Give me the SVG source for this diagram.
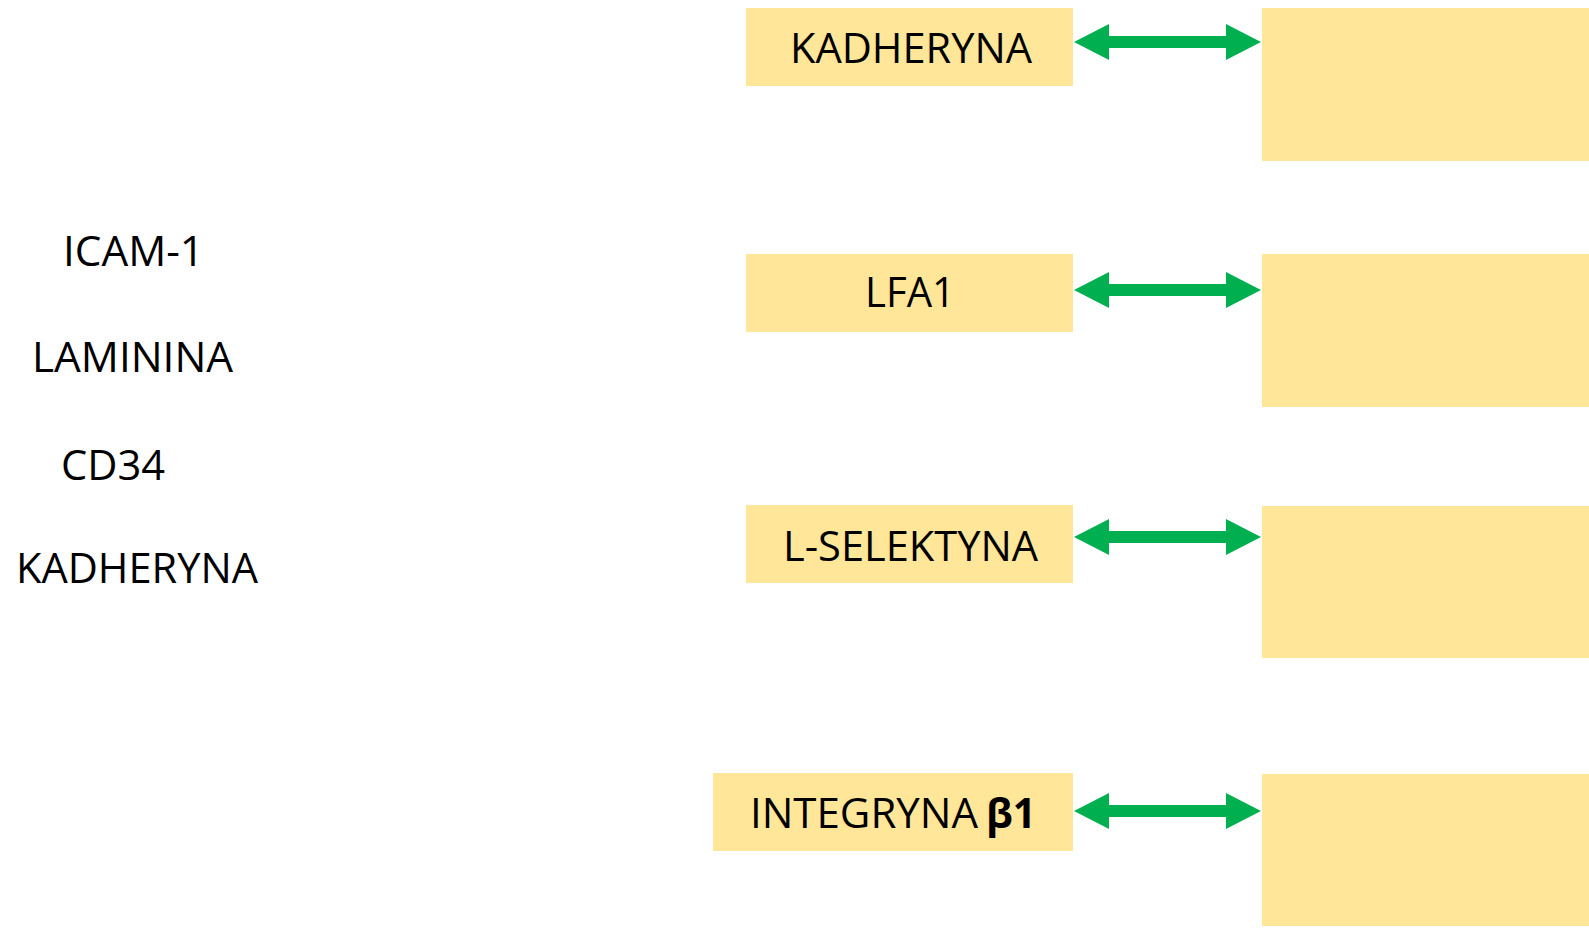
<svg xmlns="http://www.w3.org/2000/svg" xmlns:xlink="http://www.w3.org/1999/xlink" width="1589" height="930" viewBox="0 0 1589 930">
  <style>
    .box { fill: #FFE699; }
    .lbl { font-family: "Open Sans", "Liberation Sans", sans-serif; font-size: 42px; fill: #000000; }
    .bold { font-weight: bold; }
    .arrow { fill: #00B050; }
  </style>
  <defs>
    <path id="dbl" class="arrow" d="M1074,0 L1109,-18 L1109,-6 L1226,-6 L1226,-18 L1261,0 L1226,18 L1226,6 L1109,6 L1109,18 Z"/>
  </defs>
  <rect width="1589" height="930" fill="#FFFFFF"/>

  <g id="left-labels">
    <text class="lbl" x="63" y="266" textLength="141" lengthAdjust="spacingAndGlyphs">ICAM-1</text>
    <text class="lbl" x="32" y="372" textLength="201" lengthAdjust="spacingAndGlyphs">LAMININA</text>
    <text class="lbl" x="61" y="480" textLength="104" lengthAdjust="spacingAndGlyphs">CD34</text>
    <text class="lbl" x="16" y="583" textLength="242" lengthAdjust="spacingAndGlyphs">KADHERYNA</text>
  </g>

  <g id="node-kadheryna">
    <rect class="box" x="746" y="8" width="327" height="78"/>
    <text class="lbl" x="790" y="63" textLength="242" lengthAdjust="spacingAndGlyphs">KADHERYNA</text>
  </g>
  <g id="node-lfa1">
    <rect class="box" x="746" y="254" width="327" height="78"/>
    <text class="lbl" x="865" y="307" textLength="90" lengthAdjust="spacingAndGlyphs">LFA1</text>
  </g>
  <g id="node-lselektyna">
    <rect class="box" x="746" y="505" width="327" height="78"/>
    <text class="lbl" x="783" y="561" textLength="255" lengthAdjust="spacingAndGlyphs">L-SELEKTYNA</text>
  </g>
  <g id="node-integryna">
    <rect class="box" x="713" y="773" width="360" height="78"/>
    <text class="lbl" x="750" y="828" textLength="228" lengthAdjust="spacingAndGlyphs">INTEGRYNA</text>
    <text class="lbl bold" x="986" y="828" textLength="50" lengthAdjust="spacingAndGlyphs">β1</text>
  </g>

  <g id="target-1"><rect class="box" x="1262" y="8" width="327" height="153"/></g>
  <g id="target-2"><rect class="box" x="1262" y="254" width="327" height="153"/></g>
  <g id="target-3"><rect class="box" x="1262" y="506" width="327" height="152"/></g>
  <g id="target-4"><rect class="box" x="1262" y="774" width="327" height="152"/></g>

  <g id="connectors">
    <use xlink:href="#dbl" href="#dbl" transform="translate(0,42)"/>
    <use xlink:href="#dbl" href="#dbl" transform="translate(0,290)"/>
    <use xlink:href="#dbl" href="#dbl" transform="translate(0,537)"/>
    <use xlink:href="#dbl" href="#dbl" transform="translate(0,811)"/>
  </g>
</svg>
